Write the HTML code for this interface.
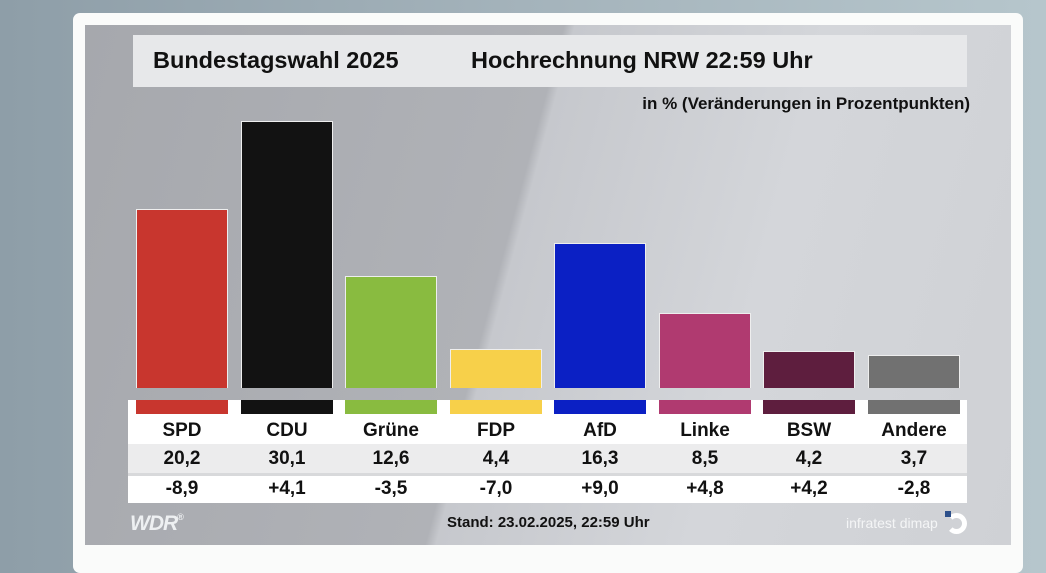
<!DOCTYPE html>
<html><head><meta charset="utf-8"><style>
*{margin:0;padding:0;box-sizing:border-box}
body{width:1046px;height:553px;overflow:hidden;position:relative;background:linear-gradient(90deg,#8e9ea8,#a4b3bb 50%,#b6c6cc);font-family:"Liberation Sans",sans-serif;font-weight:bold;color:#111}
.abs{position:absolute}
#card{left:73px;top:13px;width:950px;height:560px;background:#fafbfa;border-radius:7px}
#panel{left:85px;top:25px;width:926px;height:520px;background:linear-gradient(105deg,#a6a8ad 0%,#b0b2b7 45%,#c6c8cd 46%,#d4d6da 70%,#cfd1d5 100%)}
#title{left:133px;top:35px;width:834px;height:52px;background:#e7e8ea}
.t{font-size:23.5px;top:47px}
.bar{position:absolute;width:92px;border:1px solid #eee;border-bottom:none}
.strip{position:absolute;top:400px;height:14px;width:92px}
.cell{position:absolute;width:104px;text-align:center;font-size:19px}
</style></head><body>
<div id="card" class="abs"></div>
<div id="panel" class="abs"></div>
<div id="title" class="abs"></div>
<div class="abs t" style="left:153px">Bundestagswahl 2025</div>
<div class="abs t" style="left:471px">Hochrechnung NRW 22:59 Uhr</div>
<div class="abs" style="right:76px;top:94px;font-size:17px">in % (Veränderungen in Prozentpunkten)</div>

<div class="bar" style="left:136px;top:209px;height:179px;background:#c8362e"></div>
<div class="bar" style="left:241px;top:121px;height:267px;background:#121212"></div>
<div class="bar" style="left:345px;top:276px;height:112px;background:#89bb40"></div>
<div class="bar" style="left:450px;top:349px;height:39px;background:#f7d04a"></div>
<div class="bar" style="left:554px;top:243px;height:145px;background:#0b20c4"></div>
<div class="bar" style="left:659px;top:313px;height:75px;background:#b03a70"></div>
<div class="bar" style="left:763px;top:351px;height:37px;background:#5e1e3e"></div>
<div class="bar" style="left:868px;top:355px;height:33px;background:#717171"></div>

<div class="abs" style="left:128px;top:400px;width:839px;height:44px;background:#fff"></div>
<div class="abs" style="left:128px;top:444px;width:839px;height:29px;background:#ececed"></div>
<div class="abs" style="left:128px;top:473px;width:839px;height:3px;background:#d8d9db"></div>
<div class="abs" style="left:128px;top:476px;width:839px;height:27px;background:#fff"></div>

<div class="strip" style="left:136px;background:#c8362e"></div>
<div class="strip" style="left:241px;background:#121212"></div>
<div class="strip" style="left:345px;background:#89bb40"></div>
<div class="strip" style="left:450px;background:#f7d04a"></div>
<div class="strip" style="left:554px;background:#0b20c4"></div>
<div class="strip" style="left:659px;background:#b03a70"></div>
<div class="strip" style="left:763px;background:#5e1e3e"></div>
<div class="strip" style="left:868px;background:#717171"></div>

<div class="cell" style="left:130px;top:420px">SPD</div><div class="cell" style="left:130px;top:448px">20,2</div><div class="cell" style="left:130px;top:478px">-8,9</div>
<div class="cell" style="left:235px;top:420px">CDU</div><div class="cell" style="left:235px;top:448px">30,1</div><div class="cell" style="left:235px;top:478px">+4,1</div>
<div class="cell" style="left:339px;top:420px">Grüne</div><div class="cell" style="left:339px;top:448px">12,6</div><div class="cell" style="left:339px;top:478px">-3,5</div>
<div class="cell" style="left:444px;top:420px">FDP</div><div class="cell" style="left:444px;top:448px">4,4</div><div class="cell" style="left:444px;top:478px">-7,0</div>
<div class="cell" style="left:548px;top:420px">AfD</div><div class="cell" style="left:548px;top:448px">16,3</div><div class="cell" style="left:548px;top:478px">+9,0</div>
<div class="cell" style="left:653px;top:420px">Linke</div><div class="cell" style="left:653px;top:448px">8,5</div><div class="cell" style="left:653px;top:478px">+4,8</div>
<div class="cell" style="left:757px;top:420px">BSW</div><div class="cell" style="left:757px;top:448px">4,2</div><div class="cell" style="left:757px;top:478px">+4,2</div>
<div class="cell" style="left:862px;top:420px">Andere</div><div class="cell" style="left:862px;top:448px">3,7</div><div class="cell" style="left:862px;top:478px">-2,8</div>

<div class="abs" style="left:130px;top:512px;font-size:21px;color:#eef0f2;font-style:italic;letter-spacing:-1px">WDR<span style="font-size:9px;vertical-align:top">®</span></div>
<div class="abs" style="left:447px;top:514px;font-size:15px">Stand: 23.02.2025, 22:59 Uhr</div>
<div class="abs" style="left:846px;top:515px;font-size:14px;color:#f4f5f6;font-weight:normal">infratest dimap</div>
<div class="abs" style="left:946px;top:513px;width:21px;height:21px;border:5px solid #fff;border-left-color:transparent;border-radius:50%"></div>
<div class="abs" style="left:945px;top:511px;width:6px;height:6px;background:#2c4f8a"></div>
</body></html>
